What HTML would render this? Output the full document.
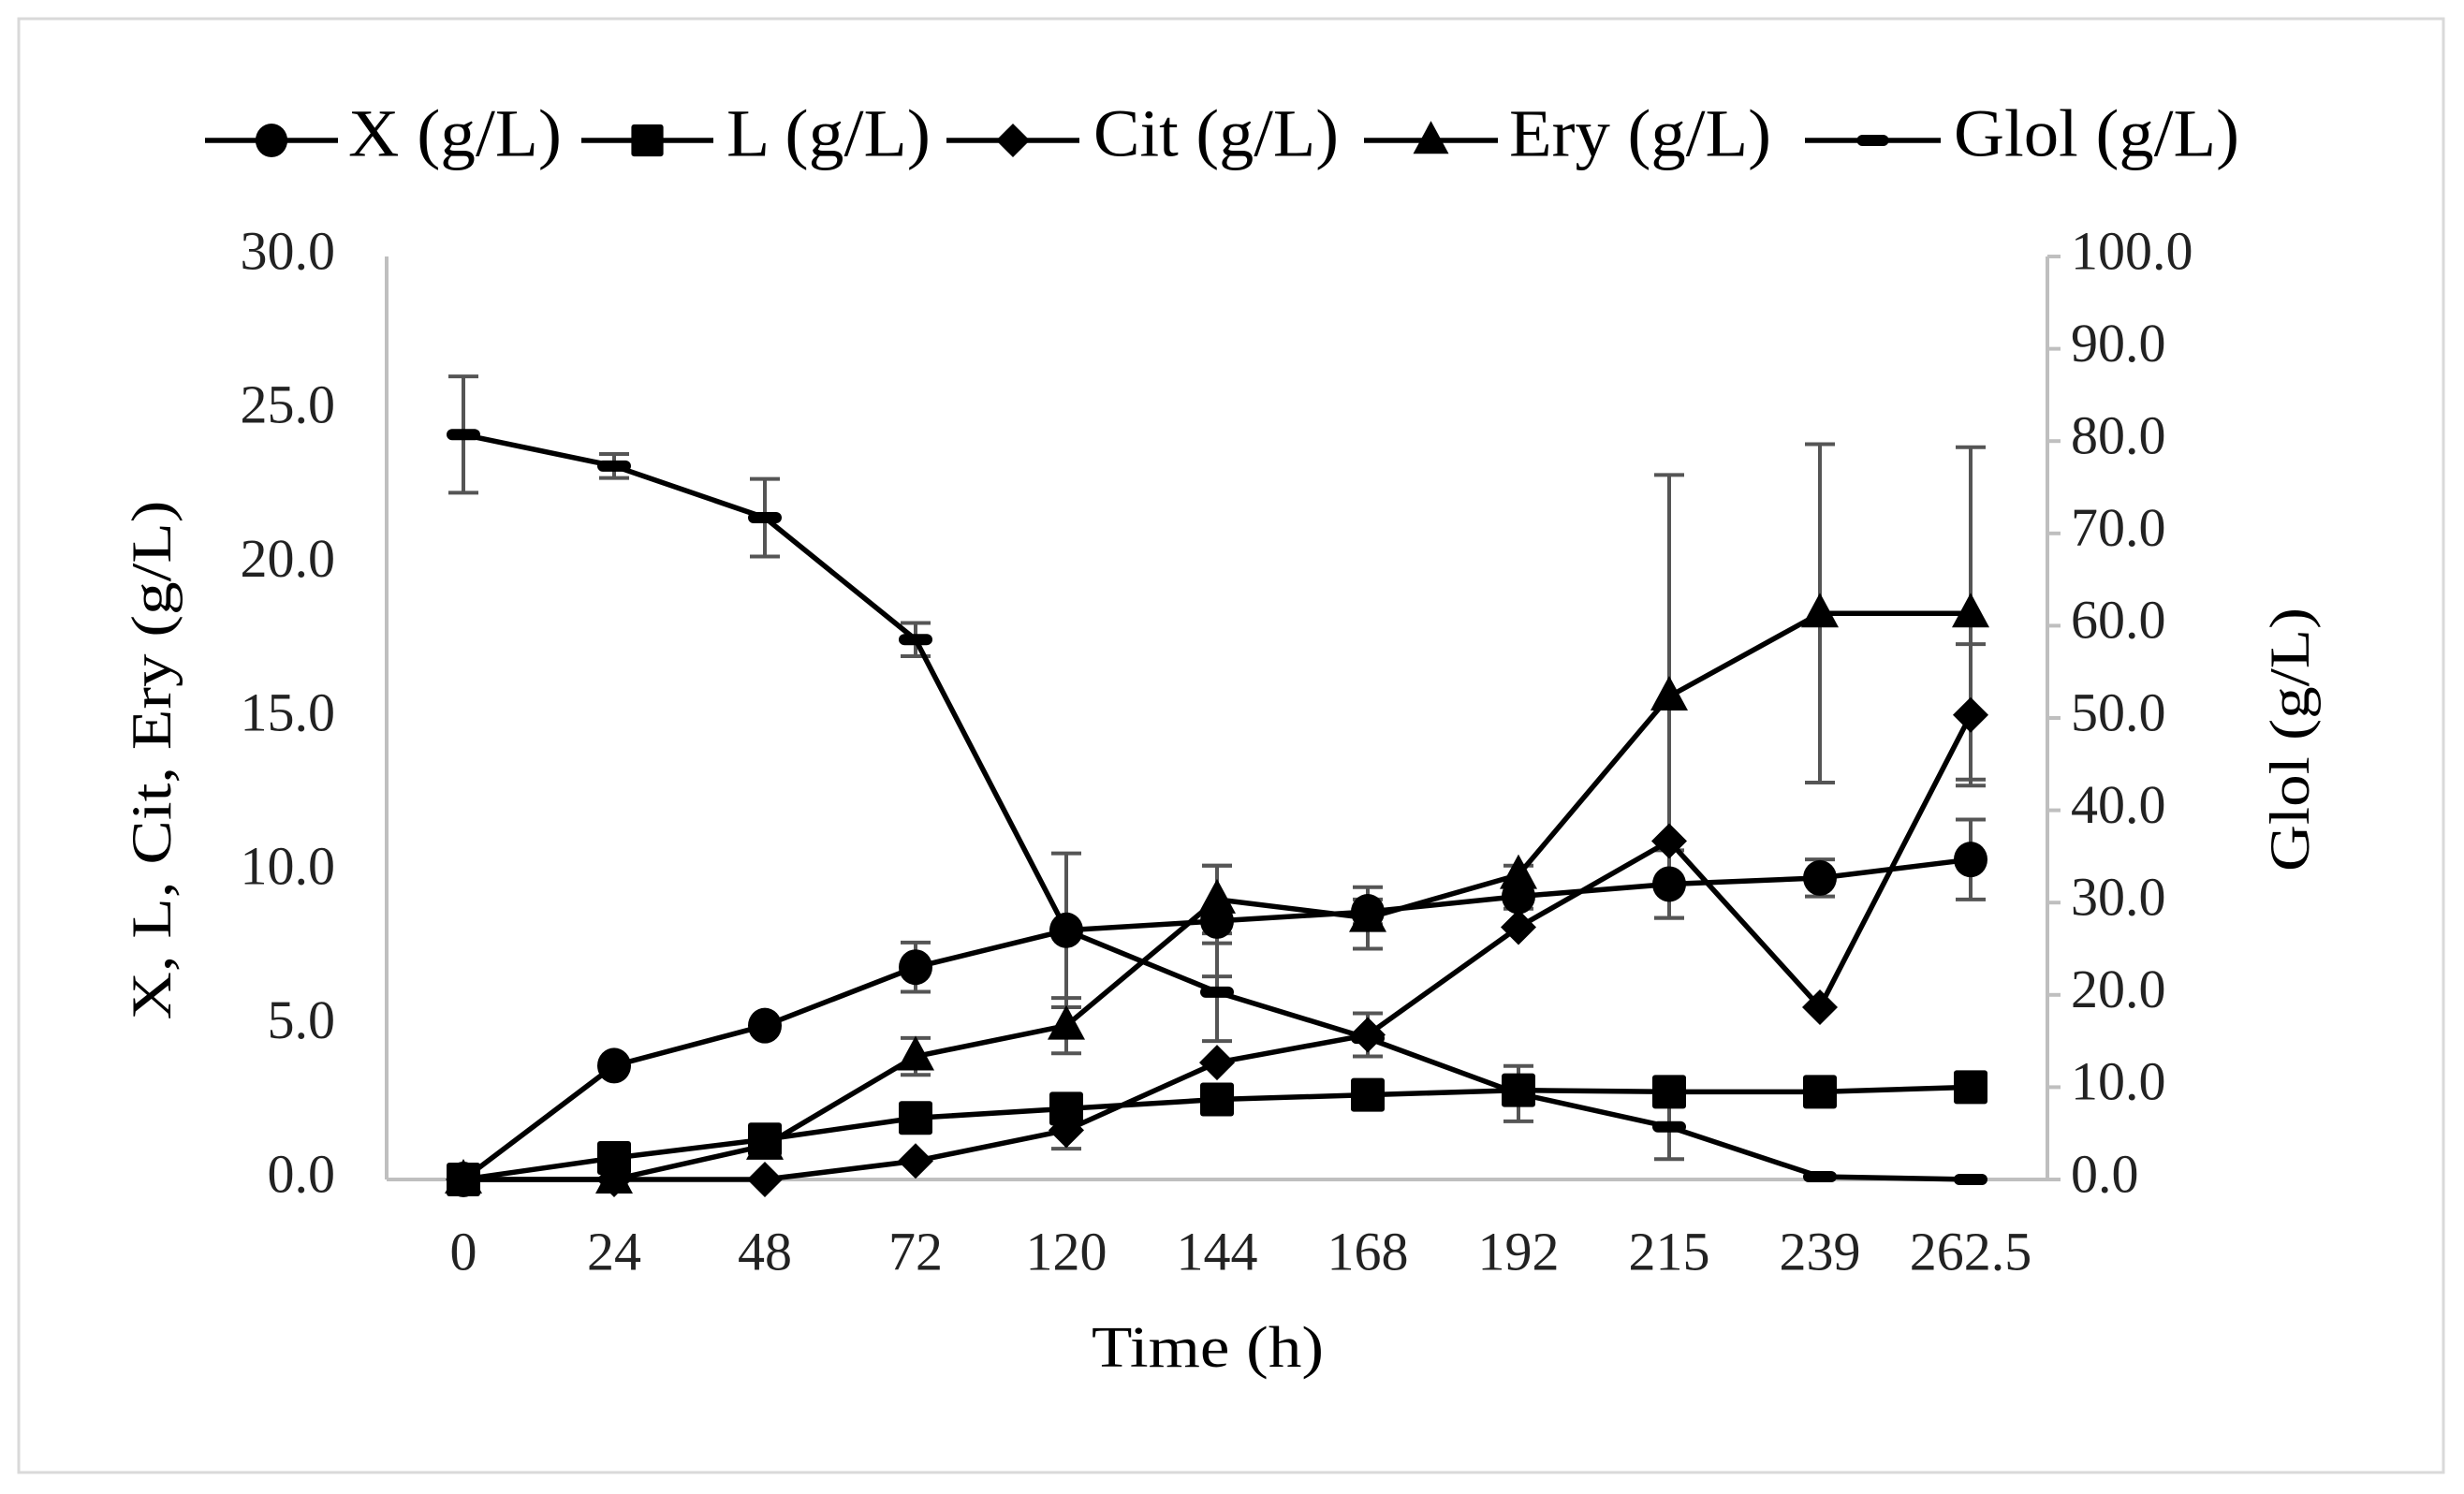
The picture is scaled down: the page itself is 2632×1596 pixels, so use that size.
<!DOCTYPE html>
<html><head><meta charset="utf-8"><style>
html,body{margin:0;padding:0;background:#fff}
svg{display:block;font-family:"Liberation Serif",serif}
</style></head><body>
<svg id="chart" width="2632" height="1596" viewBox="0 0 2632 1596" xmlns="http://www.w3.org/2000/svg">
<rect x="20" y="20" width="2590" height="1553" fill="#fff" stroke="#d9d9d9" stroke-width="3"/>
<g id="axes"></g>
<g id="errs"></g>
<g id="series"></g>
<g id="legend"></g>
<text x="168" y="812" font-size="60" text-anchor="middle" dominant-baseline="middle" transform="rotate(-90 168 812)" textLength="555" lengthAdjust="spacingAndGlyphs">X, L, Cit, Ery (g/L)</text>
<text x="2452" y="790" font-size="60" text-anchor="middle" dominant-baseline="middle" transform="rotate(-90 2452 790)" textLength="282" lengthAdjust="spacingAndGlyphs">Glol (g/L)</text>
<text x="1290" y="1446" font-size="62" text-anchor="middle" dominant-baseline="middle" textLength="248" lengthAdjust="spacingAndGlyphs">Time (h)</text>
</svg>
<script>
const categories = ["0","24","48","72","120","144","168","192","215","239","262.5"];
const leftTicks = ["0.0","5.0","10.0","15.0","20.0","25.0","30.0"];
const rightTicks = ["0.0","10.0","20.0","30.0","40.0","50.0","60.0","70.0","80.0","90.0","100.0"];
const xValues = [0,3.7,5.0,6.9,8.1,8.4,8.7,9.2,9.6,9.8,10.4];
const xErr = [0,0,0,0.8,2.5,1.8,0.4,0.4,1.1,0.6,1.3];
const lValues = [0,0.7,1.3,2.0,2.3,2.6,2.75,2.9,2.85,2.85,3.0];
const lErr = [0,0,0,0,0,0,0,0.3,0,0,0];
const citValues = [0,0,0,0.6,1.6,3.8,4.7,8.2,11.0,5.6,15.1];
const citErr = [0,0,0,0,0.6,0,0.7,0,0,0,2.3];
const eryValues = [0,0,1.1,4.0,5.0,9.1,8.5,9.9,15.7,18.4,18.4];
const eryErr = [0,0,0,0.6,0.9,1.1,1.0,0.3,7.2,5.5,5.4];
const glolValues = [80.7,77.3,71.7,58.5,27.0,20.3,15.3,9.3,5.7,0.3,0.0];
const glolErr = [6.3,1.3,4.2,1.8,0,5.3,0,3.0,3.5,0,0];

const NS="http://www.w3.org/2000/svg";
const X0=495, DX=161, AXL=413, AXR=2187, Y0=1260, YT=274;
const xs=i=>X0+i*DX;
const yL=v=>Y0-(v/30)*(Y0-YT);
const yR=v=>Y0-(v/100)*(Y0-YT);
function mk(tag,attrs,parent){const e=document.createElementNS(NS,tag);for(const k in attrs)e.setAttribute(k,attrs[k]);parent.appendChild(e);return e;}
const axes=document.getElementById('axes'),errs=document.getElementById('errs'),ser=document.getElementById('series'),leg=document.getElementById('legend');

let e=mk('line',{x1:AXL,y1:YT,x2:AXL,y2:Y0,stroke:'#bfbfbf','stroke-width':4},axes);


e=mk('line',{x1:AXR,y1:YT,x2:AXR,y2:Y0,stroke:'#bfbfbf','stroke-width':4},axes);


e=mk('line',{x1:AXL,y1:Y0,x2:AXR,y2:Y0,stroke:'#bfbfbf','stroke-width':4},axes);



leftTicks.forEach((t,i)=>{
  const y=yL(parseFloat(t));
  const tx=mk('text',{x:358,y:y,'font-size':58,'text-anchor':'end','dominant-baseline':'middle',fill:'#222'},axes);
  tx.textContent=t;
  
  
});
rightTicks.forEach((t,i)=>{
  const y=yR(parseFloat(t));
  const tk=mk('line',{x1:AXR,y1:y,x2:AXR+14,y2:y,stroke:'#bfbfbf','stroke-width':4},axes);
  
  
  const tx=mk('text',{x:2212,y:y,'font-size':58,'text-anchor':'start','dominant-baseline':'middle',fill:'#222'},axes);
  tx.textContent=t;
  
  
});
categories.forEach((c,i)=>{
  const tx=mk('text',{x:xs(i),y:1343,'font-size':58,'text-anchor':'middle','dominant-baseline':'middle',fill:'#222'},axes);
  tx.textContent=c;
  
  
});

function marker(type,x,y,parent,scale){
  const s=scale||1;let m;
  if(type==='circle')m=mk('ellipse',{cx:x,cy:y,rx:18*s,ry:19*s,fill:'#000'},parent);
  else if(type==='square')m=mk('rect',{x:x-18*s,y:y-18*s,width:36*s,height:36*s,rx:3,fill:'#000'},parent);
  else if(type==='diamond')m=mk('polygon',{points:`${x},${y-19*s} ${x+19*s},${y} ${x},${y+19*s} ${x-19*s},${y}`,fill:'#000'},parent);
  else if(type==='triangle')m=mk('polygon',{points:`${x},${y-22*s} ${x+20*s},${y+15*s} ${x-20*s},${y+15*s}`,fill:'#000'},parent);
  else m=mk('rect',{x:x-18*s,y:y-6,width:36*s,height:12,rx:6,fill:'#000'},parent);
  return m;
}
const seriesDefs=[
  {name:'x',vals:xValues,err:xErr,mk:'circle',y:yL},
  {name:'l',vals:lValues,err:lErr,mk:'square',y:yL},
  {name:'cit',vals:citValues,err:citErr,mk:'diamond',y:yL},
  {name:'ery',vals:eryValues,err:eryErr,mk:'triangle',y:yL},
  {name:'glol',vals:glolValues,err:glolErr,mk:'dash',y:yR}
];
seriesDefs.forEach(s=>{
  const g=mk('g',{},ser);
  
  
  s.vals.forEach((v,i)=>{
    if(s.err[i]>0){
      const x=xs(i),y1=s.y(v-s.err[i]),y2=s.y(v+s.err[i]);
      const eg=mk('g',{stroke:'#555','stroke-width':4},errs);
      
      
      mk('line',{x1:x,y1:y1,x2:x,y2:y2},eg);
      mk('line',{x1:x-16,y1:y1,x2:x+16,y2:y1},eg);
      mk('line',{x1:x-16,y1:y2,x2:x+16,y2:y2},eg);
    }
  });
  const pts=s.vals.map((v,i)=>xs(i)+','+s.y(v)).join(' ');
  const pl=mk('polyline',{points:pts,fill:'none',stroke:'#000','stroke-width':5.5,'stroke-linejoin':'round'},g);
  
  
  s.vals.forEach((v,i)=>{
    const m=marker(s.mk,xs(i),s.y(v),g);
    
    
  });
});

const legendItems=[
  {label:'X (g/L)',mk:'circle',x1:219,x2:361,tx:372,w:228},
  {label:'L (g/L)',mk:'square',x1:621,x2:762,tx:776,w:218},
  {label:'Cit (g/L)',mk:'diamond',x1:1011,x2:1153,tx:1168,w:262},
  {label:'Ery (g/L)',mk:'triangle',x1:1457,x2:1600,tx:1612,w:280},
  {label:'Glol (g/L)',mk:'dash',x1:1928,x2:2073,tx:2087,w:305}
];
legendItems.forEach(it=>{
  const g=mk('g',{},leg);
  
  
  const cy=150,cx=(it.x1+it.x2)/2;
  mk('line',{x1:it.x1,y1:cy,x2:it.x2,y2:cy,stroke:'#000','stroke-width':5.5},g);
  marker(it.mk,cx,cy,g,0.95);
  const t=mk('text',{x:it.tx,y:cy,'font-size':72,'dominant-baseline':'middle',textLength:it.w,lengthAdjust:'spacingAndGlyphs'},g);
  t.textContent=it.label;
});
</script>
</body></html>
